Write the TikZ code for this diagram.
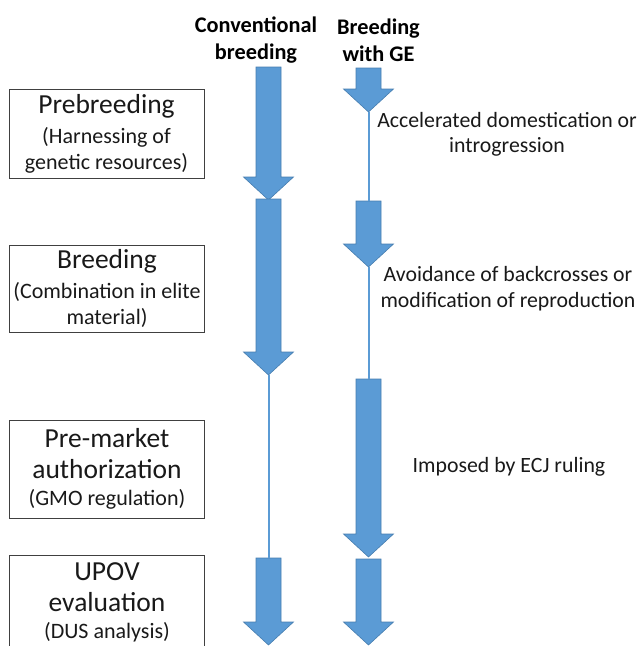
\documentclass[tikz,border=0pt]{standalone}
\usepackage{fontspec}
\setmainfont{Carlito}
\definecolor{geBlue}{RGB}{91,155,213}
\definecolor{geEdge}{RGB}{70,125,175}
\definecolor{geText}{RGB}{25,25,25}

% block arrow: name, x centre, tail y, tip y (y grows downwards)
\newcommand{\blockarrow}[4]{%
  \coordinate (#1-tail) at (#2,#3);
  \coordinate (#1-tip) at (#2,#4);
  \filldraw[fill=geBlue, draw=geEdge, line width=0.6pt, line join=miter]
    (#2-12.5,#3) -- (#2+12.5,#3) -- (#2+12.5,#4-23) -- (#2+25,#4-23)
    -- (#2,#4) -- (#2-25,#4-23) -- (#2-12.5,#4-23) -- cycle;
}
\newcommand{\stagetitle}{\fontsize{27.5}{31}\selectfont}

\begin{document}
\begin{tikzpicture}[x=1pt, y=-1pt,
    stagebox/.style={draw=black!75, line width=0.8pt, minimum width=195pt,
      inner sep=0pt, align=center, text=geText,
      font=\fontsize{22}{26}\selectfont},
    sidenote/.style={align=center, text=geText, inner sep=0pt,
      font=\fontsize{21.8}{25.5}\selectfont},
    colhead/.style={align=center, inner sep=0pt,
      font=\bfseries\fontsize{22.3}{27}\selectfont},
    thinflow/.style={draw=geBlue, line width=2pt}]
    \useasboundingbox (0,0) rectangle (641,646);
    \clip (0,0) rectangle (641,646);

    % column headings
    \node[colhead] (hconv) at (256,40.5) {Conventional\\breeding};
    \node[colhead] (hge) at (378.5,40.5) {Breeding\\with GE};

    % stages
    \node[stagebox, minimum height=89pt] (pre) at (106.5,133.5)
      {\stagetitle Prebreeding\\[4pt](Harnessing of\\genetic resources)};
    \node[stagebox, minimum height=87pt] (breed) at (107,288.5)
      {\stagetitle Breeding\\[4pt](Combination in elite\\material)};
    \node[stagebox, minimum height=98pt] (auth) at (107,469)
      {\stagetitle Pre-market\\[5pt]\stagetitle authorization\\[1pt](GMO regulation)};
    \node[stagebox, minimum height=94pt] (upov) at (107,602)
      {\stagetitle UPOV\\[5pt]\stagetitle evaluation\\[1pt](DUS analysis)};

    % conventional breeding
    \blockarrow{cb1}{268.5}{67}{200}
    \blockarrow{cb2}{268.5}{199}{375}
    \blockarrow{cb3}{268.5}{558}{645}
    \draw[thinflow] (cb2-tip) -- (cb3-tail);

    % breeding with GE
    \blockarrow{ge1}{368.5}{68}{112}
    \blockarrow{ge2}{368.5}{201}{267}
    \blockarrow{ge3}{368.5}{379}{557}
    \blockarrow{ge4}{368.5}{559}{645}
    \draw[thinflow] (ge1-tip) -- (ge2-tail);
    \draw[thinflow] (ge2-tip) -- (ge3-tail);

    % notes on the GE route
    \node[sidenote] (accel) at (507,134.5) {Accelerated domestication or\\introgression};
    \node[sidenote] (avoid) at (508,288.5) {Avoidance of backcrosses or\\modification of reproduction};
    \node[sidenote] (ecj) at (509,467) {Imposed by ECJ ruling};
\end{tikzpicture}
\end{document}
